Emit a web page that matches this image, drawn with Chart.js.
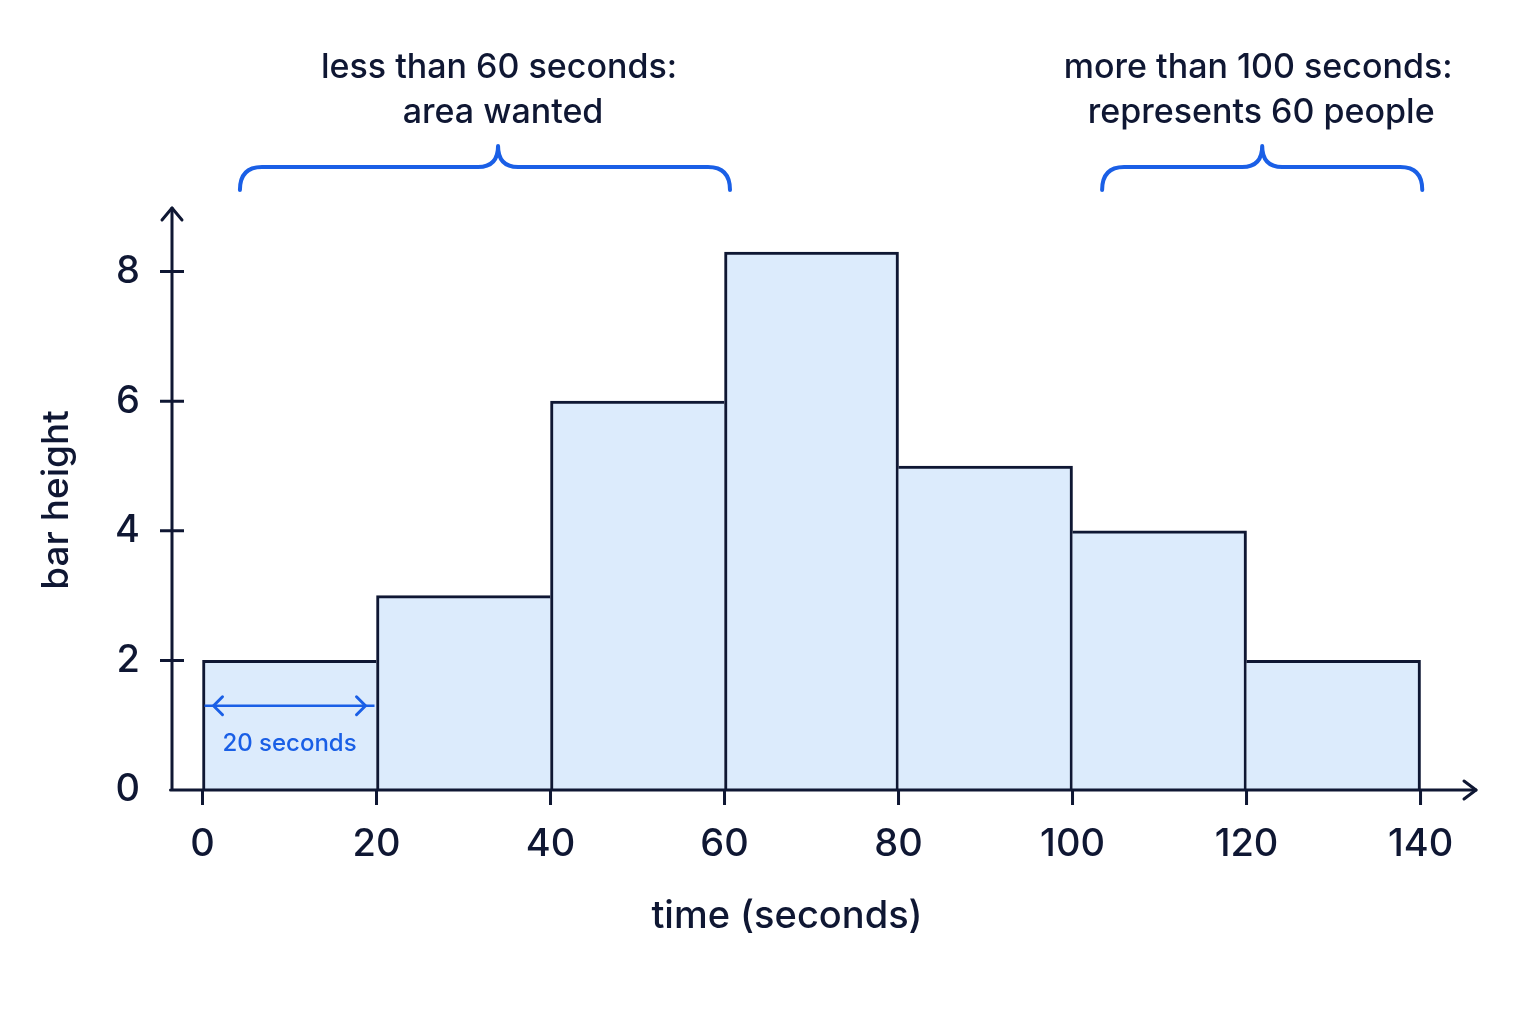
<!DOCTYPE html>
<html>
<head>
<meta charset="utf-8">
<script src="https://cdn.jsdelivr.net/npm/chart.js@4/dist/chart.umd.min.js"></script>
<style>
  html, body { margin: 0; padding: 0; background: #ffffff; }
  #wrap { width: 1536px; height: 1024px; }
</style>
</head>
<body>
<div id="wrap"><canvas id="c" width="1536" height="1024"></canvas></div>
<script>
// ---- data ----
const binMidpoints = [10, 30, 50, 70, 90, 110, 130];   // seconds (bins of width 20)
const barHeights   = [2, 3, 6, 8.3, 5, 4, 2];
const xTickValues  = [0, 20, 40, 60, 80, 100, 120, 140];
const yTickValues  = [0, 2, 4, 6, 8];
const xAxisTitle   = 'time (seconds)';
const yAxisTitle   = 'bar height';
const leftNote     = ['less than 60 seconds:', 'area wanted'];
const rightNote    = ['more than 100 seconds:', 'represents 60 people'];
const widthNote    = '20 seconds';

// ---- style ----
const INK = '#0f1733';
const BLUE = '#1a5fe6';
const FILL = '#dcebfc';
const FONT = 'Inter, "Noto Sans", sans-serif';

const heightAt = i => barHeights[i];
const borderFor = (ctx) => {
  const i = ctx.dataIndex;
  const h = heightAt(i);
  const prev = i > 0 ? heightAt(i - 1) : -1;
  const next = i < barHeights.length - 1 ? heightAt(i + 1) : -1;
  return { top: 3, bottom: 0, left: h >= prev ? 3 : 0, right: h > next ? 3 : 0 };
};

const decor = {
  id: 'decor',
  afterDatasetsDraw(chart) {
    const { ctx, scales: { x, y } } = chart;
    const x0 = x.left, y0 = y.getPixelForValue(0);
    ctx.save();
    ctx.strokeStyle = INK;
    ctx.lineWidth = 3;
    ctx.lineCap = 'round';
    ctx.lineJoin = 'round';
    // axes
    ctx.beginPath();
    ctx.moveTo(x0, y0); ctx.lineTo(x0, y.top - 2);
    ctx.moveTo(x0 - 1.5, y0); ctx.lineTo(x.right + 1, y0);
    ctx.stroke();
    // arrow heads
    ctx.beginPath();
    ctx.moveTo(x0 - 10, y.top + 10); ctx.lineTo(x0, y.top - 2); ctx.lineTo(x0 + 10, y.top + 10);
    ctx.moveTo(x.right - 11, y0 - 9); ctx.lineTo(x.right + 1, y0); ctx.lineTo(x.right - 11, y0 + 9);
    ctx.stroke();
    // tick marks
    ctx.lineCap = 'butt';
    ctx.beginPath();
    xTickValues.forEach(v => { const px = x.getPixelForValue(v); ctx.moveTo(px, y0); ctx.lineTo(px, y0 + 15); });
    yTickValues.filter(v => v > 0).forEach(v => { const py = y.getPixelForValue(v); ctx.moveTo(x0 - 12, py); ctx.lineTo(x0 + 12, py); });
    ctx.stroke();

    // x axis title (offset left of the plot centre, as in the original)
    ctx.fillStyle = INK;
    ctx.font = '500 38px ' + FONT;
    ctx.textAlign = 'center';
    ctx.textBaseline = 'middle';
    ctx.fillText(xAxisTitle, 787, 917);

    // width arrow inside first bar
    ctx.strokeStyle = BLUE;
    ctx.fillStyle = BLUE;
    ctx.lineWidth = 2.5;
    const ay = y.getPixelForValue(1.3);
    const ax1 = x.getPixelForValue(0) + 2, ax2 = x.getPixelForValue(20) - 2;
    ctx.beginPath();
    ctx.moveTo(ax1, ay); ctx.lineTo(ax2, ay);
    ctx.stroke();
    ctx.lineCap = 'round';
    ctx.lineWidth = 3;
    ctx.beginPath();
    ctx.moveTo(ax1 + 18, ay - 9); ctx.lineTo(ax1 + 9, ay); ctx.lineTo(ax1 + 18, ay + 9);
    ctx.moveTo(ax2 - 18, ay - 9); ctx.lineTo(ax2 - 9, ay); ctx.lineTo(ax2 - 18, ay + 9);
    ctx.stroke();
    ctx.font = '500 24px ' + FONT;
    ctx.fillText(widthNote, x.getPixelForValue(10), y.getPixelForValue(0.71));

    // braces
    const brace = (a, tip, b) => {
      const xa = x.getPixelForValue(a), xm = x.getPixelForValue(tip), xb = x.getPixelForValue(b);
      const yb = 190, yh = 167, yt = 146, r = 22, rt = 20;
      ctx.beginPath();
      ctx.moveTo(xa, yb);
      ctx.quadraticCurveTo(xa, yh, xa + r, yh);
      ctx.lineTo(xm - rt, yh);
      ctx.quadraticCurveTo(xm, yh, xm, yt);
      ctx.quadraticCurveTo(xm, yh, xm + rt, yh);
      ctx.lineTo(xb - r, yh);
      ctx.quadraticCurveTo(xb, yh, xb, yb);
      ctx.stroke();
      return xm;
    };
    ctx.lineWidth = 4;
    ctx.strokeStyle = BLUE;
    const t1 = brace(4.3, 33.97, 60.63);
    const t2 = brace(103.4, 121.8, 140.2);

    ctx.fillStyle = INK;
    ctx.font = '500 34px ' + FONT;
    ctx.fillText(leftNote[0], t1 + 1, 68);
    ctx.fillText(leftNote[1], t1 + 5, 113);
    ctx.fillText(rightNote[0], t2 - 4, 68);
    ctx.fillText(rightNote[1], t2 - 1, 113);
    ctx.restore();
  }
};

new Chart(document.getElementById('c'), {
  type: 'bar',
  data: {
    datasets: [{
      data: binMidpoints.map((m, i) => ({ x: m, y: barHeights[i] })),
      backgroundColor: FILL,
      borderColor: INK,
      borderWidth: borderFor,
      borderSkipped: false,
      barPercentage: 1,
      categoryPercentage: 1
    }]
  },
  options: {
    responsive: false,
    animation: false,
    devicePixelRatio: 1,
    layout: { padding: { left: 0, right: 61, top: 210, bottom: 0 } },
    plugins: { legend: { display: false }, tooltip: { enabled: false } },
    scales: {
      x: {
        type: 'linear',
        min: -3.506,
        max: 146.26,
        offset: false,
        afterBuildTicks: s => { s.ticks = xTickValues.map(v => ({ value: v })); },
        afterFit: s => { s.height = 234; },
        grid: { display: false, drawTicks: false },
        border: { display: false },
        ticks: { color: INK, font: { family: FONT, size: 38, weight: '500' }, padding: 32, maxRotation: 0, autoSkip: false },
        title: { display: false, text: xAxisTitle }
      },
      y: {
        min: 0,
        max: 8.95,
        afterBuildTicks: s => { s.ticks = yTickValues.map(v => ({ value: v })); },
        afterFit: s => { s.width = 172; },
        grid: { display: false, drawTicks: false },
        border: { display: false },
        ticks: { color: INK, font: { family: FONT, size: 38, weight: '500' }, padding: 32 },
        title: { display: true, text: yAxisTitle, color: INK, font: { family: FONT, size: 37, weight: '500' }, padding: { top: 35, bottom: 0 } }
      }
    }
  },
  plugins: [decor]
});
</script>
</body>
</html>
